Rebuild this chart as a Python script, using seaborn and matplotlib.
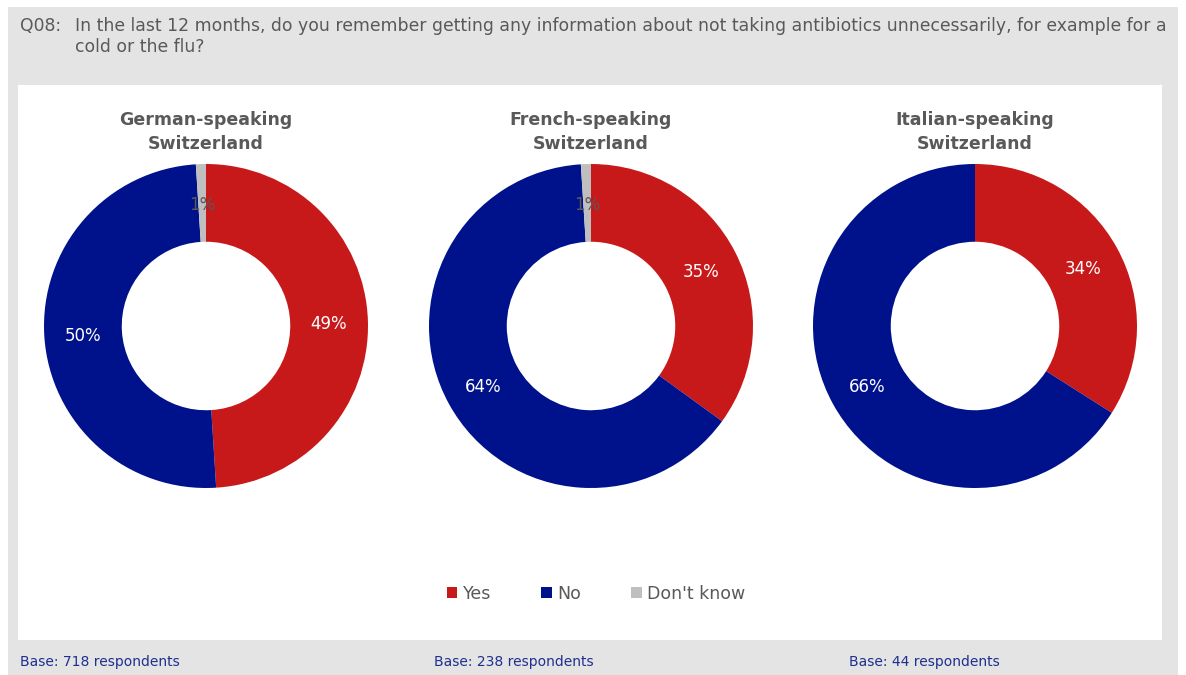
import numpy as np
import matplotlib
matplotlib.use("Agg")
import matplotlib.pyplot as plt
from matplotlib.patches import Patch, Rectangle
import matplotlib.transforms as mtransforms
import seaborn as sns

# Survey answers per language region (percent of respondents)
regions = ["German-speaking\nSwitzerland", "French-speaking\nSwitzerland", "Italian-speaking\nSwitzerland"]
answers = ["Yes", "No", "Don't know"]
yes_pct = [49, 35, 34]
no_pct = [50, 64, 66]
dk_pct = [1, 1, 0]
base_labels = ["Base: 718 respondents", "Base: 238 respondents", "Base: 44 respondents"]

question_id = "Q08:"
question = ("In the last 12 months, do you remember getting any information about not taking antibiotics unnecessarily, for example for a\n"
            "cold or the flu?")

sns.set_style("white")
plt.rcParams["font.family"] = ["DejaVu Sans"]

palette = sns.color_palette(["#C8191A", "#00118C", "#BFBFBF"])
label_colors = ["white", "white", "#595959"]
text_grey = "#595959"
base_blue = "#1F2F8F"

W, H = 1186, 675
fig = plt.figure(figsize=(W / 100, H / 100), dpi=100)
fig.patch.set_facecolor("white")

# grey frame and white chart panel
fig.add_artist(Rectangle((8 / W, 0), 1170 / W, 1 - 7 / H, transform=fig.transFigure,
                         facecolor="#E4E4E4", edgecolor="none", zorder=0))
fig.add_artist(Rectangle((18 / W, 1 - 640 / H), 1144 / W, 555 / H, transform=fig.transFigure,
                         facecolor="white", edgecolor="none", zorder=0))

fig.text(20 / W, 1 - 17 / H, question_id, fontsize=12.4, color=text_grey, va="top", ha="left")
fig.text(75 / W, 1 - 17 / H, question, fontsize=12.4, color=text_grey, va="top", ha="left",
         linespacing=1.2)

centers_x = [206, 591, 975]
center_y = 326
radius_px = 162
ring_width = 0.48

for i, (cx, name) in enumerate(zip(centers_x, regions)):
    ax = fig.add_axes([(cx - radius_px) / W, 1 - (center_y + radius_px) / H,
                       2 * radius_px / W, 2 * radius_px / H])
    vals = [yes_pct[i], no_pct[i], dk_pct[i]]
    ax.pie(vals, colors=palette, startangle=90, counterclock=False, radius=1,
           wedgeprops=dict(width=ring_width, edgecolor="none"))
    ax.set_xlim(-1, 1)
    ax.set_ylim(-1, 1)
    ax.set_aspect("equal")
    ax.axis("off")
    # value labels at ring middle, nudged slightly down
    nudge = mtransforms.offset_copy(ax.transData, fig=fig, x=0, y=-1.5, units="points")
    total = sum(vals)
    cum = 0
    mid_r = 1 - ring_width / 2
    for v, col in zip(vals, label_colors):
        if v > 0:
            frac = (cum + v / 2) / total
            ang = np.pi / 2 - 2 * np.pi * frac
            ax.text(mid_r * np.cos(ang), mid_r * np.sin(ang), f"{v}%", ha="center", va="center",
                    fontsize=12, color=col, transform=nudge)
        cum += v
    fig.text(cx / W, 1 - 132 / H, name, ha="center", va="center", fontsize=12.5,
             fontweight="bold", color=text_grey, linespacing=1.38)

for x, lbl in zip([20, 434, 849], base_labels):
    fig.text(x / W, 1 - 662 / H, lbl, fontsize=10, color=base_blue, va="center", ha="left")

handles = [Patch(facecolor=c, edgecolor="none") for c in palette]
leg = fig.legend(handles, answers, loc="center", bbox_to_anchor=(596 / W, 1 - 594 / H), ncol=3,
                 frameon=False, fontsize=12.5, handlelength=0.6, handleheight=0.6,
                 handletextpad=0.3, columnspacing=2.9)
for t in leg.get_texts():
    t.set_color(text_grey)

fig.savefig("out.png", dpi=100, facecolor=fig.get_facecolor())
